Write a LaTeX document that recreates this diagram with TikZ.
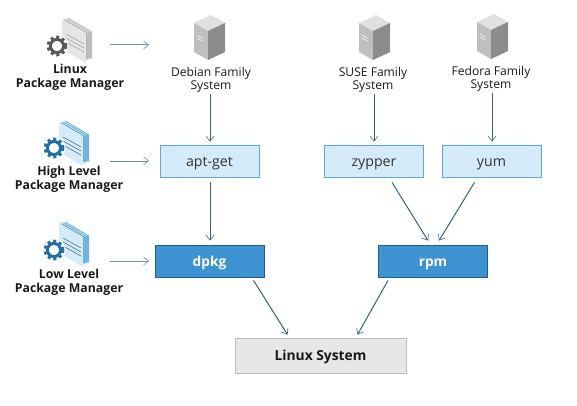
\documentclass[tikz,border=0pt]{standalone}
\usepackage{fontspec}
\setmainfont{Open Sans}
\usetikzlibrary{arrows.meta,calc}
\definecolor{arrowc}{HTML}{2F6480}
\definecolor{arrowl}{HTML}{6F929F}
\definecolor{lightb}{HTML}{D5EBF9}
\definecolor{lightbd}{HTML}{5BA9DC}
\definecolor{midb}{HTML}{3D92D1}
\definecolor{midbd}{HTML}{1F5F8F}
\definecolor{greyf}{HTML}{E6E7E8}
\definecolor{greyd}{HTML}{BCBEC0}
\definecolor{gearg}{HTML}{58595B}
\definecolor{gearb}{HTML}{1F6FA8}
\newcommand{\gearshape}[2]{%
  \fill[white] #1 circle (11.5pt);
  \draw[#2,line width=3pt] #1 circle (6.6pt);
  \draw[#2,line width=2.8pt,dash pattern=on 2.97pt off 2.96pt] #1 circle (9pt);
}
\newcommand{\docstack}[5]{% x y page edge line/gear
 \begin{scope}[shift={(#1,#2)}]
  \foreach \d in {6,4,2}{\filldraw[fill=#4,draw=white,line width=.4pt] (\d,-\d*0.3) -- (\d+24,14-\d*0.3) -- (\d+24,42-\d*0.3) -- (\d,28-\d*0.3) -- cycle;}
  \fill[#3] (0,0) -- (24,14) -- (24,44) -- (0,30) -- cycle;
  \draw[#5,line width=.6pt] (4,15)--(22,25) (4,19)--(22,29) (4,23)--(22,33);
 \end{scope}
}
\newcommand{\serverbox}[2]{%
 \begin{scope}[shift={(#1,#2)}]
  \fill[black!12] (0,8) -- (17,0) -- (31,8) -- (14,16) -- cycle;
  \fill[black!25] (0,8) -- (14,16) -- (14,45) -- (0,37) -- cycle;
  \fill[black!45] (14,16) -- (31,8) -- (31,37) -- (14,45) -- cycle;
  \draw[white,line width=.5pt] (3,20)--(9,23.5) (3,23)--(9,26.5);
 \end{scope}
}
\tikzset{
 con/.style={draw=arrowc,line width=1pt,-{Straight Barb[length=5pt,width=8pt,line width=.6pt]}},
 conl/.style={draw=arrowl,line width=1pt,-{Straight Barb[length=5pt,width=8pt,line width=.6pt]}},
 lab/.style={align=center,font=\fontsize{12.3}{13.7}\selectfont\bfseries,text=black!90,inner sep=0pt},
 sys/.style={align=center,font=\fontsize{12.1}{13.7}\selectfont,text=black!90,inner sep=0pt},
 lightbox/.style={draw=lightbd,fill=lightb,line width=.8pt,minimum width=99pt,minimum height=32pt,inner sep=0pt,text height=10pt,text depth=0pt,font=\fontsize{14.2}{16}\selectfont,text=black!80},
 midbox/.style={draw=midbd,fill=midb,line width=.8pt,minimum width=109pt,minimum height=32pt,inner sep=0pt,text height=11.4pt,text depth=0pt,font=\fontsize{13.7}{16}\selectfont\bfseries,text=white},
 greybox/.style={draw=greyd,fill=greyf,line width=.8pt,minimum width=171pt,minimum height=35pt,inner sep=0pt,text height=10pt,text depth=0pt,font=\fontsize{13.8}{16}\selectfont\bfseries,text=black!90},
}
\begin{document}
\begin{tikzpicture}[x=1pt,y=-1pt]
\useasboundingbox (0,0) rectangle (577,406);
% icons
\docstack{62}{19}{black!10}{black!30}{black!35}
\gearshape{(57,46)}{gearg}
\docstack{59}{122}{lightb}{lightbd}{lightbd!70!black}
\gearshape{(54,148)}{gearb}
\docstack{59}{223}{lightb}{lightbd}{lightbd!70!black}
\gearshape{(54,250)}{gearb}
\serverbox{194}{15}
\serverbox{359}{15}
\serverbox{477}{14}
% labels
\node[lab] (lpm) at (70,77) {Linux\\Package Manager};
\node[lab] (hpm) at (69,179) {High Level\\Package Manager};
\node[lab] (llpm) at (69,282) {Low Level\\Package Manager};
\node[sys] (deb) at (211,80) {Debian Family\\System};
\node[sys] (suse) at (373,80) {SUSE Family\\System};
\node[sys] (fed) at (491,79) {Fedora Family\\System};
% boxes
\node[lightbox] (apt) at (209.5,161) {apt-get};
\node[lightbox] (zyp) at (374,161) {zypper};
\node[lightbox] (yum) at (491.5,161) {yum};
\node[midbox] (dpkg) at (209.5,261) {dpkg};
\node[midbox] (rpm) at (433,261) {rpm};
\node[greybox] (lin) at (320.5,355.5) {Linux System};
% free ends
\coordinate (t1) at (110,45); \coordinate (h1) at (149,45);
\coordinate (t2) at (110,161); \coordinate (h2) at (149,161);
\coordinate (t3) at (110,261); \coordinate (h3) at (149,261);
% connectors
\draw[conl] (t1) -- (h1);
\draw[conl] (t2) -- (h2);
\draw[conl] (t3) -- (h3);
\draw[con] ([xshift=-1pt,yshift=-1pt]deb.south) -- ([yshift=3pt,xshift=.5pt]apt.north);
\draw[con] ([xshift=1pt,yshift=-1pt]suse.south) -- ([yshift=3pt]zyp.north);
\draw[con] ([yshift=-1pt,xshift=1pt]fed.south) -- ([yshift=3pt,xshift=.5pt]yum.north);
\draw[con] ([xshift=.5pt,yshift=-5pt]apt.south) -- ([xshift=.5pt,yshift=4pt]dpkg.north);
\draw[con] ([xshift=18pt,yshift=-5pt]zyp.south) -- ([xshift=-5pt,yshift=4pt]rpm.north);
\draw[con] ([xshift=-17pt,yshift=-5pt]yum.south) -- ([xshift=6pt,yshift=4pt]rpm.north);
\draw[con] ([xshift=44pt,yshift=-3pt]dpkg.south) -- ([xshift=-33pt,yshift=3pt]lin.north);
\draw[con] ([xshift=-45pt,yshift=-3pt]rpm.south) -- ([xshift=37pt,yshift=3pt]lin.north);
\end{tikzpicture}
\end{document}
